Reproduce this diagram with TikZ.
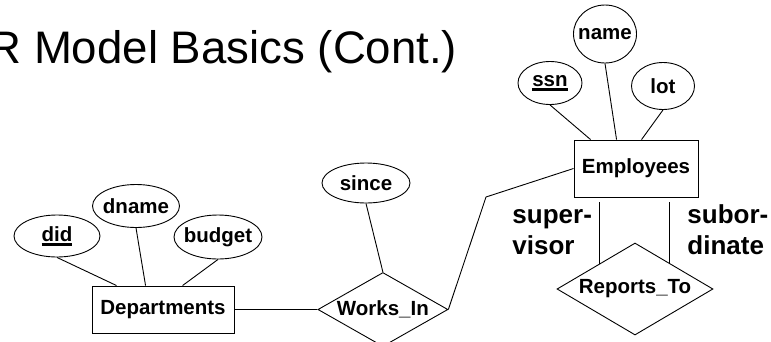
\documentclass[tikz,border=0pt]{standalone}
\usepackage{fontspec}
\setmainfont{Liberation Sans}
\usetikzlibrary{positioning,shapes.geometric}

% key attributes get a heavy bar under the name
\newcommand\keyattr[1]{\setbox0\hbox{#1}\rlap{\rule[-4.5pt]{\wd0}{2.6pt}}\box0}

\begin{document}
\begin{tikzpicture}[
                x=1pt, y=-1pt, line width=0.9pt,
                node distance=83pt,
                entity/.style={draw, rectangle, inner sep=0pt,
                               font=\fontsize{20.5}{24}\selectfont\bfseries},
                attr/.style={draw, ellipse, inner xsep=-20pt, inner ysep=-6pt,
                             font=\fontsize{20.5}{24}\selectfont\bfseries},
                rel/.style={draw, diamond, inner sep=0pt,
                            font=\fontsize{20.5}{24}\selectfont\bfseries},
                role/.style={align=left, inner sep=0pt,
                             font=\fontsize{26}{31}\selectfont\bfseries},
                link/.style={line width=0.9pt}
            ]
                \useasboundingbox (0,0) rectangle (771,341);
                \node[anchor=base west, inner sep=0pt,
                      font=\fontsize{45.6}{50}\selectfont] (title) at (-12,63)
                      {R Model Basics (Cont.)};

                % entities and relationships
                \node[entity, minimum width=142pt, minimum height=47pt] (dept) at (163,309.5) {Departments};
                \node[entity, minimum width=124pt, minimum height=57pt] (emp) at (636,168.5) {Employees};
                \node[rel, aspect=1.76, minimum width=130pt, minimum height=74pt, right=of dept] (works) {Works\_In};
                \node[rel, aspect=1.7, minimum width=156pt, minimum height=92pt] (reports) at (635,289) {Reports\_To};

                % attributes
                \node[attr, minimum width=86pt, minimum height=42pt] (did) at (57,236) {\keyattr{did}};
                \node[attr, minimum width=87pt, minimum height=43pt] (dname) at (136,206) {dname};
                \node[attr, minimum width=88pt, minimum height=44pt] (budget) at (218,237) {budget};
                \node[attr, minimum width=88pt, minimum height=40pt] (since) at (366,183) {since};
                \node[attr, minimum width=64pt, minimum height=43pt] (ssn) at (550,83) {\keyattr{ssn}};
                \node[attr, minimum width=63pt, minimum height=58pt] (name) at (605,34) {name};
                \node[attr, minimum width=63pt, minimum height=47pt] (lot) at (663,86) {lot};

                % role names (base sits on the last line)
                \node[role, anchor=base west] (sup) at (512,254) {super-\\visor};
                \node[role, anchor=base west] (sub) at (687,254) {subor-\\dinate};

                \coordinate (bend) at (486,197);

                \draw[link] (did.south) -- ([xshift=25pt]dept.north west);
                \draw[link] (dname.south) -- ([xshift=54pt]dept.north west);
                \draw[link] (budget.south) -- ([xshift=91pt]dept.north west);
                \draw[link] (dept) -- (works);
                \draw[link] (since.south) -- (works.north);
                \draw[link] (works.east) -- (bend) -- (emp.west);
                \draw[link] (ssn.south) -- ([xshift=17pt]emp.north west);
                \draw[link] (name.south) -- ([xshift=43pt]emp.north west);
                \draw[link] (lot.south) -- ([xshift=68pt]emp.north west);
                \draw[link, shorten >=5pt] (reports.145) -- (reports.145 |- emp.south);
                \draw[link, shorten >=5pt] (reports.37) -- (reports.37 |- emp.south);
            \end{tikzpicture}
\end{document}
